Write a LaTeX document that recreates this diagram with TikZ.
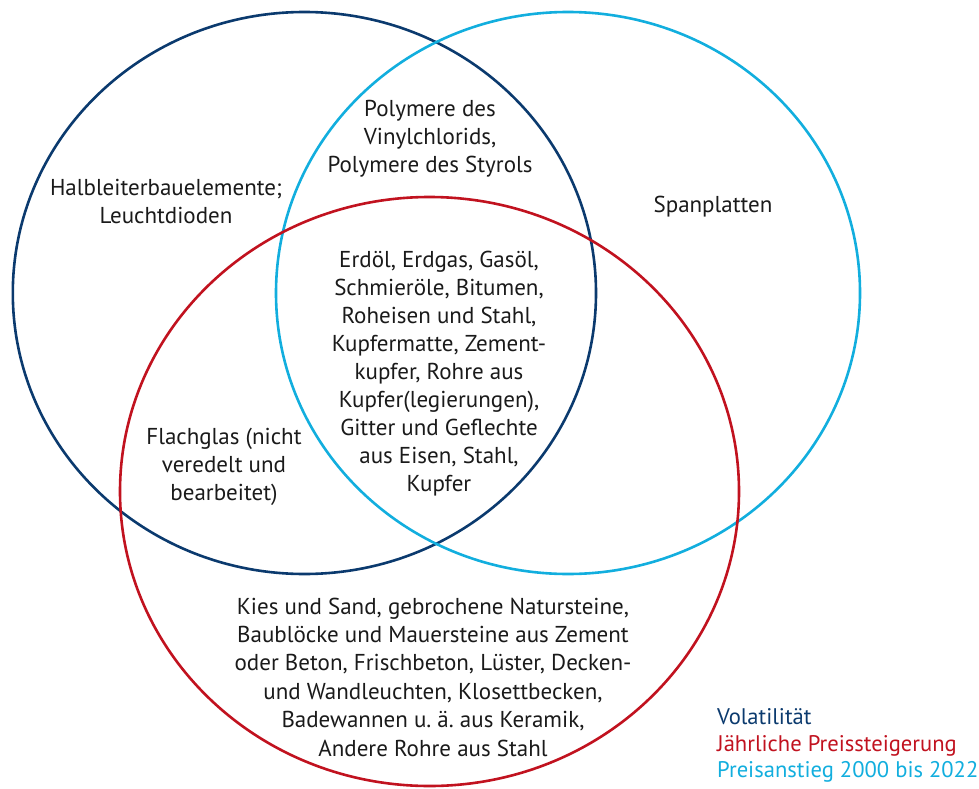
\documentclass[tikz,border=0pt]{standalone}
\usepackage{fontspec}
\setmainfont{PT Sans}
\frenchspacing
\definecolor{volblue}{HTML}{0B3A6E}
\definecolor{preisred}{HTML}{C1121F}
\definecolor{anstiegcyan}{HTML}{12AEDE}
\definecolor{txt}{HTML}{1A1A1A}
\begin{document}
\begin{tikzpicture}[x=1pt,y=-1pt,
  ring/.style={line width=2.6pt},
  label/.style={font=\fontsize{23}{28}\selectfont, text=txt, align=center, anchor=base, inner sep=0pt},
  legend/.style={font=\fontsize{22.6}{26.5}\selectfont, anchor=base west, inner sep=0pt}]
  \useasboundingbox (0,0) rectangle (979,789);
  % the three sets
  \draw[ring, volblue] (304.4,293) ellipse [x radius=291.6pt, y radius=281pt];
  \draw[ring, anstiegcyan] (568,293) ellipse [x radius=292pt, y radius=281pt];
  \draw[ring, preisred] (429.5,491.5) ellipse [x radius=309.5pt, y radius=294.5pt];
  % region texts, placed by the baseline of their last line
  \node[label] (halb) at (166,223) {Halbleiterbauelemente;\\Leuchtdioden};
  \node[label] (poly) at (430,172) {Polymere des\\Vinylchlorids,\\Polymere des Styrols};
  \node[label] (span) at (713,212) {Spanplatten};
  \node[label] (mitte) at (439,491) {Erdöl, Erdgas, Gasöl,\\Schmieröle, Bitumen,\\Roheisen und Stahl,\\Kupfermatte, Zement-\\kupfer, Rohre aus\\Kupfer(legierungen),\\Gitter und Geflechte\\aus Eisen, Stahl,\\Kupfer};
  \node[label] (flach) at (224,500) {Flachglas (nicht\\veredelt und\\bearbeitet)};
  \node[label, font=\fontsize{23}{28.4}\selectfont] (kies) at (433,756) {Kies und Sand, gebrochene Natursteine,\\Baublöcke und Mauersteine aus Zement\\oder Beton, Frischbeton, Lüster, Decken-\\und Wandleuchten, Klosettbecken,\\Badewannen u. ä. aus Keramik,\\Andere Rohre aus Stahl};
  % legend
  \node[legend, text=volblue] (lgvol) at (717,724) {Volatilität};
  \node[legend, text=preisred] (lgpreis) at (717,751) {Jährliche Preissteigerung};
  \node[legend, text=anstiegcyan] (lganst) at (717,777) {Preisanstieg 2000 bis 2022};
\end{tikzpicture}
\end{document}
